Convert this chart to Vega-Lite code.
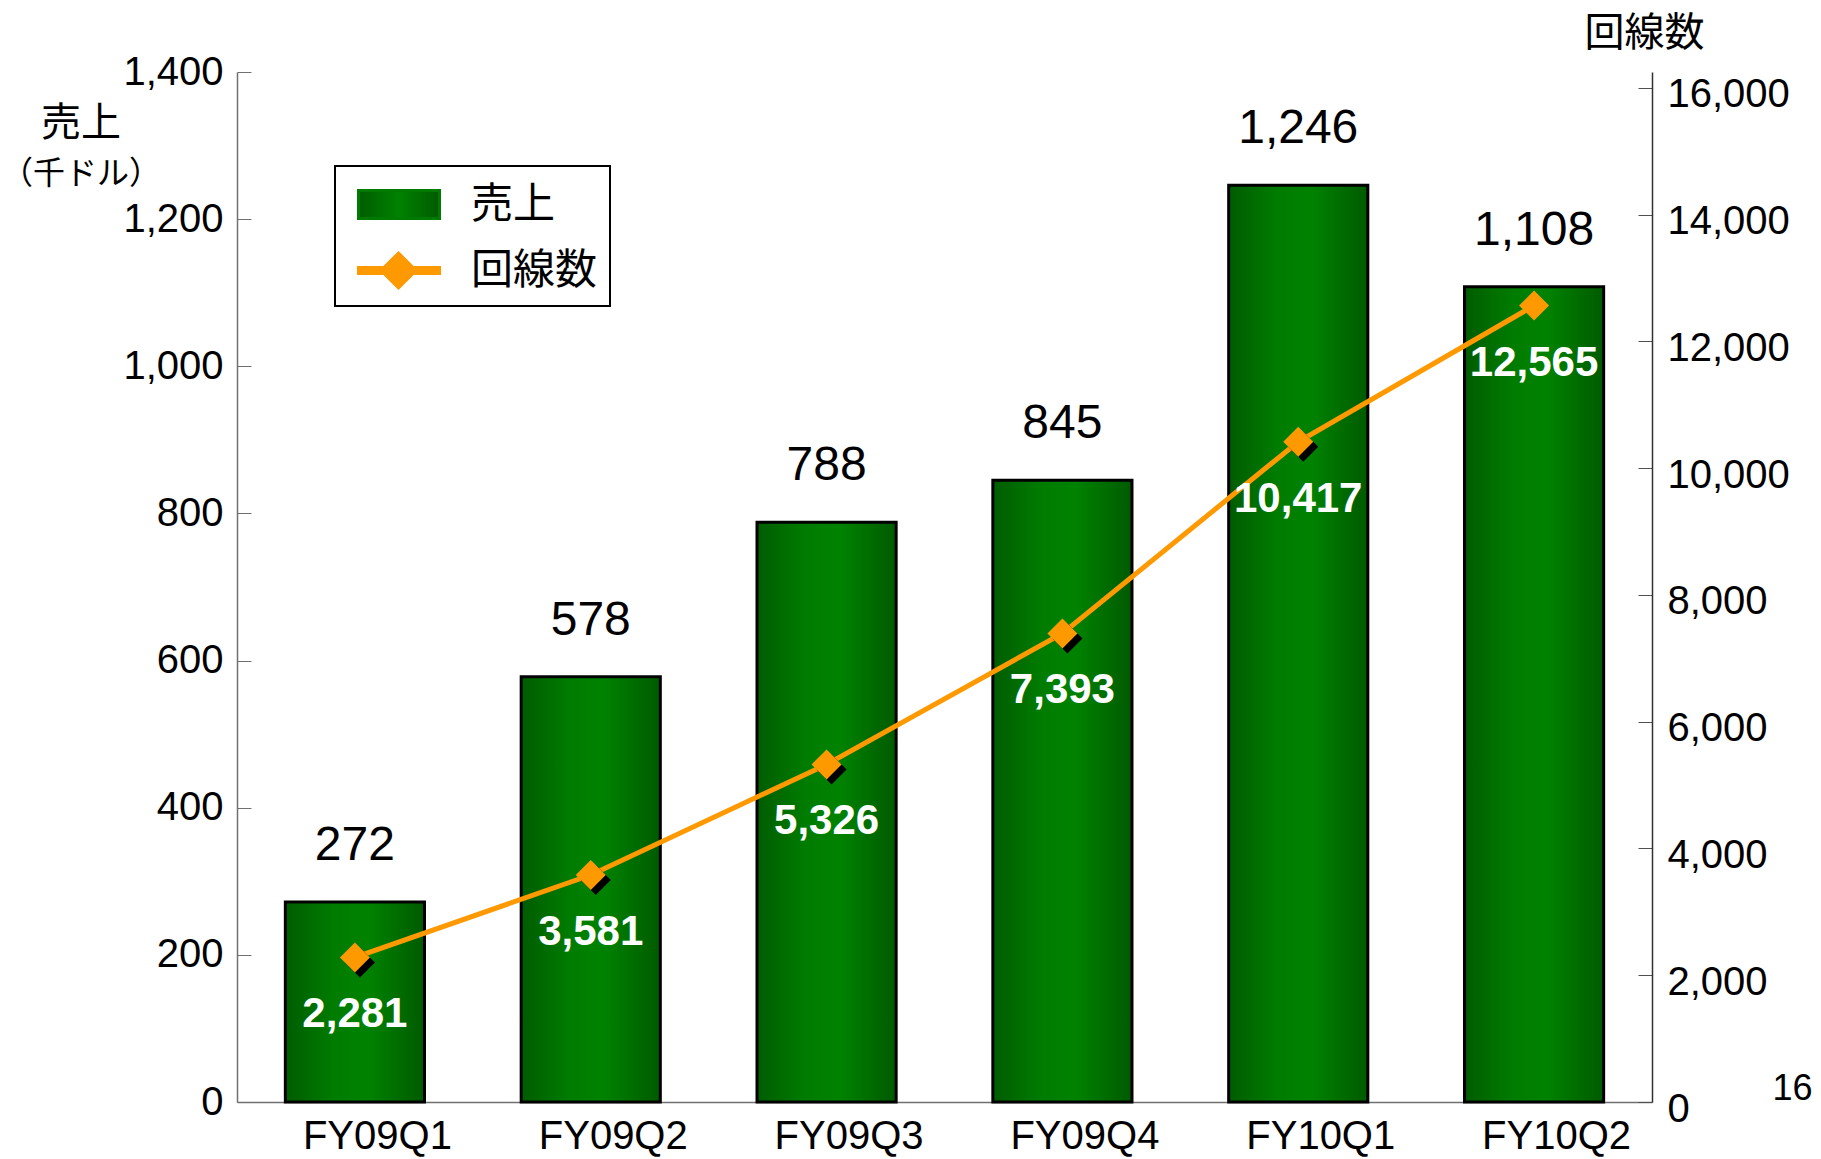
{
  "$schema": "https://vega.github.io/schema/vega-lite/v6.json",
  "width": 1415,
  "height": 1030,
  "autosize": {"type": "none"},
  "padding": {"left": 237, "top": 72, "right": 169, "bottom": 57},
  "background": "white",
  "config": {
    "view": {"stroke": null},
    "font": "Liberation Sans",
    "axis": {"labelFont": "Liberation Sans", "labelColor": "black", "labelFontSize": 40, "grid": false}
  },
  "title": {
    "text": "売上",
    "subtitle": "（千ドル）",
    "anchor": "start",
    "frame": "group",
    "align": "center",
    "orient": "top",
    "offset": 0,
    "dx": -156,
    "dy": 177,
    "font": "Noto Sans CJK JP",
    "subtitleFont": "Noto Sans CJK JP",
    "fontSize": 40,
    "subtitleFontSize": 32,
    "fontWeight": "normal",
    "subtitleFontWeight": "normal",
    "color": "black",
    "subtitleColor": "black",
    "subtitlePadding": 15
  },
  "data": {
    "values": [
      {"q": "FY09Q1", "sales": 272, "lines": 2281},
      {"q": "FY09Q2", "sales": 578, "lines": 3581},
      {"q": "FY09Q3", "sales": 788, "lines": 5326},
      {"q": "FY09Q4", "sales": 845, "lines": 7393},
      {"q": "FY10Q1", "sales": 1246, "lines": 10417},
      {"q": "FY10Q2", "sales": 1108, "lines": 12565}
    ]
  },
  "encoding": {
    "x": {
      "field": "q",
      "type": "nominal",
      "sort": null,
      "scale": {"paddingInner": 0.41, "paddingOuter": 0.205},
      "axis": {
        "orient": "bottom",
        "labelAngle": 0,
        "tickBand": "extent",
        "tickSize": -17,
        "tickColor": "#707070",
        "domainColor": "#707070",
        "domainWidth": 1.5,
        "labelPadding": 31,
        "labelOffset": 22,
        "labelFontSize": 40,
        "labelBaseline": "top",
        "title": "16",
        "titleX": 1555,
        "titleY": -14,
        "titleAlign": "center",
        "titleBaseline": "middle",
        "titleFontSize": 36,
        "titleFontWeight": "normal",
        "titleFont": "Liberation Sans",
        "titleColor": "black"
      }
    }
  },
  "layer": [
    {
      "encoding": {
        "y": {
          "field": "sales",
          "type": "quantitative",
          "scale": {"domain": [0, 1400], "nice": false},
          "axis": {
            "orient": "left",
            "values": [0, 200, 400, 600, 800, 1000, 1200, 1400],
            "format": ",.0f",
            "title": null,
            "tickSize": -14,
            "labelPadding": 28,
            "tickColor": "#707070",
            "domainColor": "#707070",
            "domainWidth": 1.5,
            "labelBaseline": "middle"
          }
        }
      },
      "layer": [
        {
          "mark": {
            "type": "bar",
            "stroke": "black",
            "strokeWidth": 3,
            "color": {
              "gradient": "linear",
              "x1": 0, "x2": 1, "y1": 0, "y2": 0,
              "stops": [
                {"offset": 0, "color": "#005c00"},
                {"offset": 0.35, "color": "#007c00"},
                {"offset": 0.6, "color": "#008200"},
                {"offset": 1, "color": "#005a00"}
              ]
            }
          }
        },
        {
          "mark": {"type": "text", "dy": -42, "baseline": "alphabetic", "fontSize": 48, "font": "Liberation Sans", "color": "black"},
          "encoding": {"text": {"field": "sales", "type": "quantitative", "format": ",.0f"}}
        }
      ]
    },
    {
      "encoding": {
        "y": {
          "field": "lines",
          "type": "quantitative",
          "scale": {"domain": [0, 16250], "nice": false},
          "axis": {
            "orient": "right",
            "values": [0, 2000, 4000, 6000, 8000, 10000, 12000, 14000, 16000],
            "format": ",.0f",
            "tickSize": -14,
            "labelPadding": 29,
            "labelOffset": 7,
            "tickColor": "#505050",
            "domainColor": "#303030",
            "domainWidth": 1.5,
            "labelBaseline": "middle",
            "title": "回線数",
            "titleAngle": 0,
            "titleX": -8,
            "titleY": -39,
            "titleAlign": "center",
            "titleBaseline": "middle",
            "titleFontSize": 40,
            "titleFont": "Noto Sans CJK JP",
            "titleFontWeight": "normal",
            "titleColor": "black",
            "encode": {"domain": {"update": {"y2": {"value": 16}}}}
          }
        }
      },
      "layer": [
        {
          "mark": {"type": "line", "strokeWidth": 5},
          "encoding": {
            "color": {
              "datum": "回線数",
              "type": "nominal",
              "scale": {"domain": ["売上", "回線数"], "range": ["#007a00", "#ff9900"]},
              "legend": {
                "orient": "none",
                "legendX": 98,
                "legendY": 94,
                "title": null,
                "padding": 12,
                "rowPadding": 18,
                "symbolSize": 2500,
                "labelOffset": 71,
                "labelFontSize": 42,
                "labelFont": "Noto Sans CJK JP",
                "labelColor": "black",
                "labelBaseline": "middle",
                "strokeColor": "black",
                "encode": {
                  "legend": {"update": {"strokeWidth": {"value": 2}}},
                  "symbols": {
                    "update": {
                      "shape": [
                        {"test": "datum.value === '売上'", "value": "M-0.6,-0.56H2.64V0.56H-0.6Z"},
                        {"value": "M-0.6,-0.12H2.64V0.12H-0.6ZM1,-0.7L1.7,0L1,0.7L0.3,0Z"}
                      ],
                      "fill": [
                        {"test": "datum.value === '売上'", "value": {
                          "gradient": "linear",
                          "x1": 0, "x2": 1, "y1": 0, "y2": 0,
                          "stops": [
                            {"offset": 0, "color": "#005c00"},
                            {"offset": 0.5, "color": "#008200"},
                            {"offset": 1, "color": "#005a00"}
                          ]
                        }},
                        {"value": "#ff9900"}
                      ],
                      "stroke": [
                        {"test": "datum.value === '売上'", "value": "black"},
                        {"value": "transparent"}
                      ],
                      "strokeWidth": {"value": 3},
                      "opacity": {"value": 1},
                      "fillOpacity": {"value": 1},
                      "size": {"value": 2500}
                    }
                  }
                }
              }
            }
          }
        },
        {
          "transform": [{"filter": "datum.q !== 'FY10Q2'"}],
          "mark": {"type": "point", "shape": "diamond", "filled": true, "size": 900, "color": "black", "opacity": 1, "xOffset": 5, "yOffset": 5}
        },
        {
          "mark": {"type": "point", "shape": "diamond", "filled": true, "size": 900, "color": "#ff9900", "opacity": 1}
        },
        {
          "mark": {"type": "text", "dy": 57, "baseline": "middle", "fontSize": 42, "fontWeight": "bold", "font": "Liberation Sans", "color": "white"},
          "encoding": {"text": {"field": "lines", "type": "quantitative", "format": ",.0f"}}
        }
      ]
    }
  ],
  "resolve": {"scale": {"y": "independent"}}
}
